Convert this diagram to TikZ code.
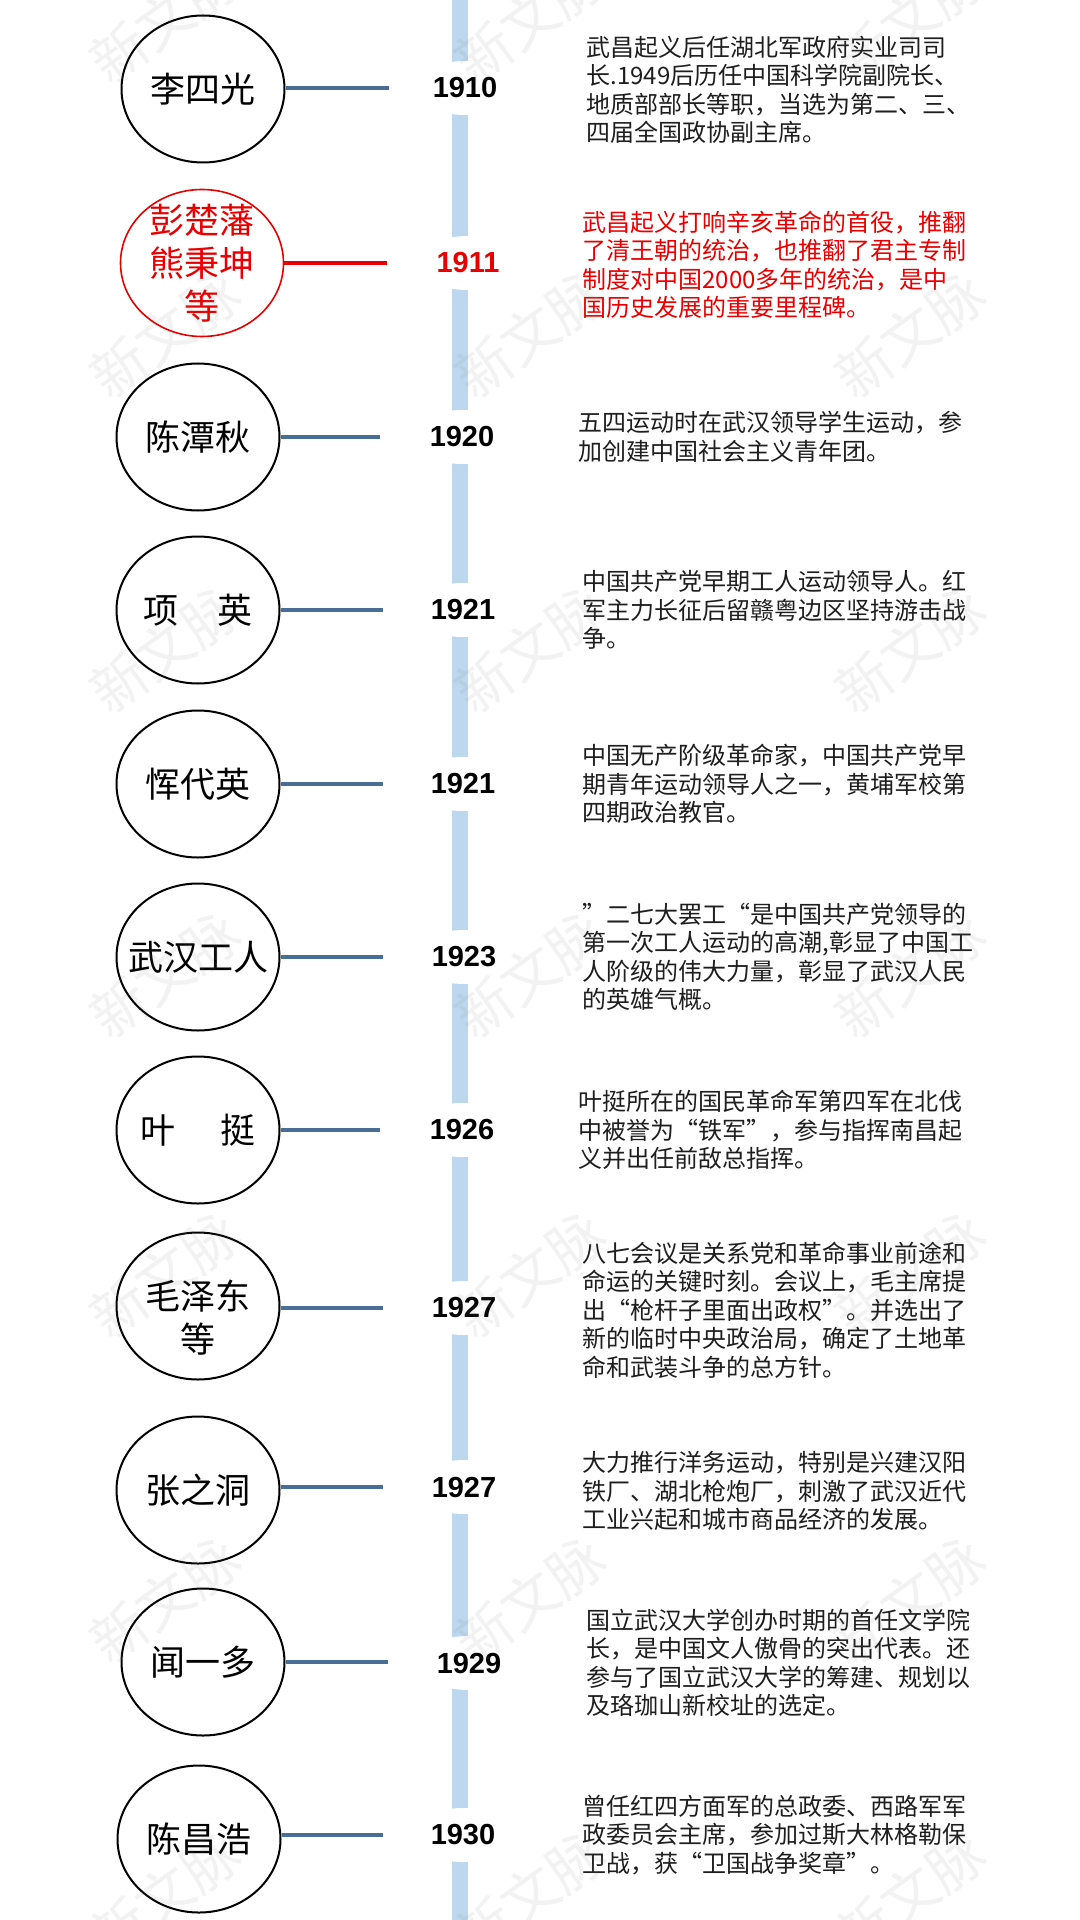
\documentclass[tikz,border=0pt]{standalone}
\usepackage{fontspec}
\setmainfont{Noto Sans CJK SC}
\newfontfamily\yearfont{Liberation Sans}
\usetikzlibrary{shapes.geometric}
\definecolor{barblue}{RGB}{189,215,238}
\definecolor{connblue}{RGB}{72,110,150}
\definecolor{redc}{RGB}{232,0,0}
\definecolor{desctext}{RGB}{30,30,30}
\begin{document}
\begin{tikzpicture}[x=0.5pt,y=-0.5pt,
  person/.style={ellipse, draw, line width=1pt, minimum width=81.5pt, minimum height=73.5pt, inner sep=0pt},
  plabel/.style={font=\fontsize{17.5pt}{21.5pt}\selectfont, align=center, inner sep=0pt},
  conn/.style={connblue, line width=2.3pt},
  yearnode/.style={ellipse, fill=white, minimum width=52pt, minimum height=27pt, inner sep=1pt, font=\yearfont\bfseries\fontsize{14.5pt}{16pt}\selectfont},
  desc/.style={anchor=west, align=left, inner sep=0pt, text=desctext, font=\fontsize{12pt}{14.25pt}\selectfont},
  wm/.style={rotate=36, text=gray, text opacity=0.1, inner sep=0pt, font=\fontsize{28pt}{30pt}\selectfont}
]
\useasboundingbox (0,0) rectangle (1080,1920);
\fill[white] (0,0) rectangle (1080,1920);
% timeline bar
\fill[barblue] (452,0) rectangle (468,1920);

% ---- row 1
\node[person] (c1) at (203,89) {};
\node[plabel] (l1) at (c1) {李四光};
\coordinate (t1) at (389,88);
\draw[conn] (c1.east |- t1) -- (t1);
\node[yearnode] (y1) at (465,88) {1910};
\node[desc] (d1) at (586,90) {武昌起义后任湖北军政府实业司司\\长.1949后历任中国科学院副院长、\\地质部部长等职，当选为第二、三、\\四届全国政协副主席。};

% ---- row 2 (red)
\node[person, draw=redc, line width=0.8pt] (c2) at (202,263) {};
\node[plabel, text=redc] (l2) at (c2) {彭楚藩\\熊秉坤\\等};
\coordinate (t2) at (387,263);
\draw[conn, redc] (c2.east |- t2) -- (t2);
\node[yearnode, text=redc] (y2) at (468,263) {1911};
\node[desc, text=redc] (d2) at (582,265) {武昌起义打响辛亥革命的首役，推翻\\了清王朝的统治，也推翻了君主专制\\制度对中国2000多年的统治，是中\\国历史发展的重要里程碑。};

% ---- row 3
\node[person] (c3) at (198,437) {};
\node[plabel] (l3) at (c3) {陈潭秋};
\coordinate (t3) at (380,437);
\draw[conn] (c3.east |- t3) -- (t3);
\node[yearnode] (y3) at (462,437) {1920};
\node[desc] (d3) at (578,437) {五四运动时在武汉领导学生运动，参\\加创建中国社会主义青年团。};

% ---- row 4
\node[person] (c4) at (198,610) {};
\node[plabel] (l4) at (c4) {项\hspace{1.1em}英};
\coordinate (t4) at (383,610);
\draw[conn] (c4.east |- t4) -- (t4);
\node[yearnode] (y4) at (463,610) {1921};
\node[desc] (d4) at (582,610) {中国共产党早期工人运动领导人。红\\军主力长征后留赣粤边区坚持游击战\\争。};

% ---- row 5
\node[person] (c5) at (198,784) {};
\node[plabel] (l5) at (c5) {恽代英};
\coordinate (t5) at (383,784);
\draw[conn] (c5.east |- t5) -- (t5);
\node[yearnode] (y5) at (463,784) {1921};
\node[desc] (d5) at (582,784) {中国无产阶级革命家，中国共产党早\\期青年运动领导人之一，黄埔军校第\\四期政治教官。};

% ---- row 6
\node[person] (c6) at (198,957) {};
\node[plabel] (l6) at (c6) {武汉工人};
\coordinate (t6) at (383,957);
\draw[conn] (c6.east |- t6) -- (t6);
\node[yearnode] (y6) at (464,957) {1923};
\node[desc] (d6) at (582,957) {”二七大罢工“是中国共产党领导的\\第一次工人运动的高潮,彰显了中国工\\人阶级的伟大力量，彰显了武汉人民\\的英雄气概。};

% ---- row 7
\node[person] (c7) at (198,1130) {};
\node[plabel] (l7) at (c7) {叶\hspace{1.3em}挺};
\coordinate (t7) at (380,1130);
\draw[conn] (c7.east |- t7) -- (t7);
\node[yearnode] (y7) at (462,1130) {1926};
\node[desc] (d7) at (578,1130) {叶挺所在的国民革命军第四军在北伐\\中被誉为“铁军”，参与指挥南昌起\\义并出任前敌总指挥。};

% ---- row 8
\node[person] (c8) at (198,1306) {};
\node[plabel, yshift=-6pt] (l8) at (c8) {毛泽东\\等};
\coordinate (t8) at (383,1308);
\draw[conn] (c8.east |- t8) -- (t8);
\node[yearnode] (y8) at (464,1308) {1927};
\node[desc] (d8) at (582,1310) {八七会议是关系党和革命事业前途和\\命运的关键时刻。会议上，毛主席提\\出“枪杆子里面出政权”。并选出了\\新的临时中央政治局，确定了土地革\\命和武装斗争的总方针。};

% ---- row 9
\node[person] (c9) at (198,1490) {};
\node[plabel] (l9) at (c9) {张之洞};
\coordinate (t9) at (383,1487);
\draw[conn] (c9.east |- t9) -- (t9);
\node[yearnode] (y9) at (464,1487) {1927};
\node[desc] (d9) at (582,1491) {大力推行洋务运动，特别是兴建汉阳\\铁厂、湖北枪炮厂，刺激了武汉近代\\工业兴起和城市商品经济的发展。};

% ---- row 10
\node[person] (c10) at (203,1662) {};
\node[plabel] (l10) at (c10) {闻一多};
\coordinate (t10) at (388,1662);
\draw[conn] (c10.east |- t10) -- (t10);
\node[yearnode] (y10) at (469,1663) {1929};
\node[desc] (d10) at (586,1663) {国立武汉大学创办时期的首任文学院\\长，是中国文人傲骨的突出代表。还\\参与了国立武汉大学的筹建、规划以\\及珞珈山新校址的选定。};

% ---- row 11
\node[person] (c11) at (199,1839) {};
\node[plabel] (l11) at (c11) {陈昌浩};
\coordinate (t11) at (383,1835);
\draw[conn] (c11.east |- t11) -- (t11);
\node[yearnode] (y11) at (463,1835) {1930};
\node[desc] (d11) at (582,1835) {曾任红四方面军的总政委、西路军军\\政委员会主席，参加过斯大林格勒保\\卫战，获“卫国战争奖章”。};

% ---- watermarks
\foreach \wx in {165,530,910} {
  \foreach \wy in {20,335,650,975,1275,1600,1895} {
    \node[wm] (w\wx-\wy) at (\wx,\wy) {新文脉};
  }
}
\end{tikzpicture}
\end{document}
